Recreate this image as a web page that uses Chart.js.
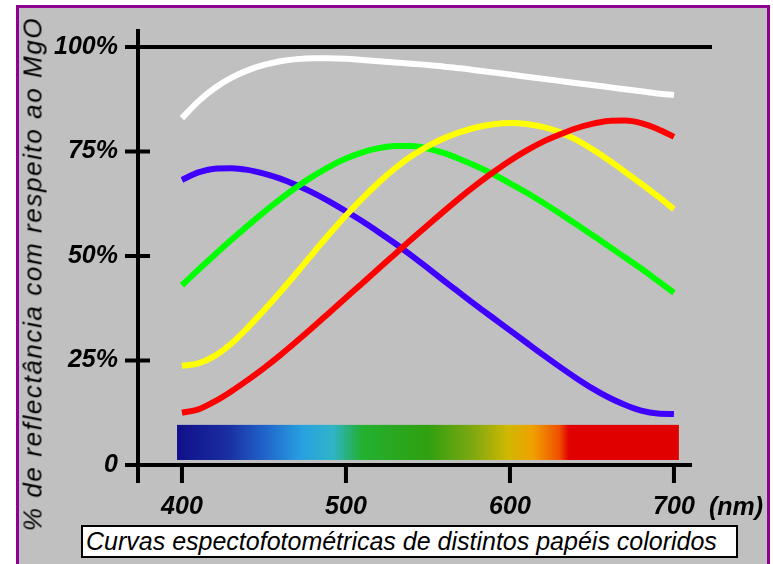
<!DOCTYPE html>
<html lang="pt">
  <head>
    <meta charset="UTF-8" />
    <meta name="viewport" content="width=device-width, initial-scale=1.0" />
    <script src="https://cdn.jsdelivr.net/npm/chart.js@4.4.0/dist/chart.umd.min.js"></script>
    <style>
      html, body { margin: 0; padding: 0; background: #ffffff; }
      body { width: 773px; height: 564px; position: relative; overflow: hidden; font-family: "Liberation Sans", Arial, sans-serif; }
      .frame { position: absolute; left: 16px; top: 5px; width: 748px; height: 600px; background: #c0c0c0; border: 3px solid #900090; }
      #spectra { position: absolute; left: 0; top: 0; }
      .ytitle { position: absolute; left: 33px; top: 274px; transform: translate(-50%, -50%) rotate(-90deg); white-space: nowrap; font-style: italic; font-size: 26px; letter-spacing: 1.6px; color: #000; }
      .unit { position: absolute; left: 709px; top: 492px; font-style: italic; font-weight: bold; font-size: 25px; color: #000; }
      .caption { position: absolute; left: 81px; top: 525px; width: 650px; height: 29px; background: #fff; border: 2px solid #000; font-style: italic; font-size: 25px; line-height: 29px; padding-left: 3px; color: #000; white-space: nowrap; }
    </style>
  </head>
  <body>
    <div class="frame"></div>
    <canvas id="spectra" width="773" height="564"></canvas>
    <div class="ytitle">% de reflectância com respeito ao MgO</div>
    <div class="unit">(nm)</div>
    <div class="caption">Curvas espectofotométricas de distintos papéis coloridos</div>

    <script>
      // wavelengths (nm) and % reflectance
      const wavelengths = [400, 410, 420, 430, 440, 450, 460, 470, 480, 490, 500, 510, 520, 530, 540, 550, 560, 570, 580, 590, 600, 610, 620, 630, 640, 650, 660, 670, 680, 690, 700];

      const white = [83, 87, 90.2, 92.6, 94.4, 95.7, 96.6, 97.1, 97.3, 97.3, 97.2, 96.9, 96.6, 96.3, 96, 95.7, 95.3, 94.9, 94.4, 93.9, 93.4, 92.9, 92.4, 91.9, 91.4, 90.9, 90.4, 89.9, 89.4, 88.9, 88.5];
      const blue = [68.2, 70, 70.9, 71, 70.6, 69.7, 68.5, 66.9, 65.1, 63, 60.7, 58.3, 55.7, 53, 50.1, 47.1, 44, 41, 38, 35.1, 32.2, 29.3, 26.4, 23.6, 20.9, 18.4, 16.2, 14.4, 13, 12.3, 12.2];
      const green = [43, 46.7, 50.3, 53.8, 57.2, 60.5, 63.6, 66.5, 69.1, 71.4, 73.3, 74.8, 75.8, 76.3, 76.3, 75.7, 74.6, 73.1, 71.4, 69.5, 67.4, 65.2, 62.8, 60.3, 57.7, 55.1, 52.4, 49.7, 47, 44.1, 41.2];
      const yellow = [23.7, 24.3, 26.1, 29, 32.8, 37, 41.4, 46, 50.7, 55.3, 59.7, 63.8, 67.6, 71, 73.9, 76.3, 78.2, 79.7, 80.8, 81.5, 81.8, 81.6, 80.9, 79.7, 77.9, 75.6, 73, 70.2, 67.3, 64.3, 61.2];
      const red = [12.5, 13.3, 15.2, 17.6, 20.3, 23.2, 26.3, 29.6, 33, 36.5, 40, 43.5, 47, 50.5, 54, 57.4, 60.8, 64.1, 67.2, 70.1, 72.8, 75.2, 77.3, 79, 80.5, 81.6, 82.3, 82.4, 81.8, 80.4, 78.5];

      const xTicks = [400, 500, 600, 700];
      const yTicks = [0, 25, 50, 75, 100];
      const yTickLabels = ["0", "25%", "50%", "75%", "100%"];

      // spectrum strip under the curves
      const stripFrom = 397, stripTo = 703, stripLow = 1.2, stripHigh = 9.6;
      const stripColors = [
        [397, "#10108a"], [428, "#1a2ea0"], [449, "#2060c8"], [473, "#28a0e0"],
        [492, "#30b4c8"], [510, "#22b030"], [550, "#30a010"], [578, "#80a810"],
        [599, "#d0b800"], [614, "#f0a000"], [630, "#f05000"], [636, "#e00000"], [703, "#e00000"],
      ];

      const tickFont = { family: "'Liberation Sans', Arial, sans-serif", size: 25, style: "italic", weight: "bold" };

      const toPoints = (vals) => vals.map((v, i) => ({ x: wavelengths[i], y: v }));

      const stripPlugin = {
        id: "strip",
        beforeDatasetsDraw(chart) {
          const { ctx, scales: { x, y } } = chart;
          const x0 = x.getPixelForValue(stripFrom), x1 = x.getPixelForValue(stripTo);
          const y0 = y.getPixelForValue(stripHigh), y1 = y.getPixelForValue(stripLow);
          const g = ctx.createLinearGradient(x0, 0, x1, 0);
          stripColors.forEach(([nm, c]) => g.addColorStop((nm - stripFrom) / (stripTo - stripFrom), c));
          ctx.save();
          ctx.fillStyle = g;
          ctx.fillRect(x0, y0, x1 - x0, y1 - y0);
          ctx.restore();
        },
      };

      const axesPlugin = {
        id: "axes",
        afterDraw(chart) {
          const { ctx, chartArea: a, scales: { x, y } } = chart;
          const x0 = a.left, y0 = y.getPixelForValue(0), top = y.getPixelForValue(100);
          ctx.save();
          ctx.strokeStyle = "#000";
          ctx.lineWidth = 4;
          ctx.lineCap = "butt";
          ctx.beginPath();
          // y axis
          ctx.moveTo(x0, top - 18); ctx.lineTo(x0, y0 + 18);
          // x axis
          ctx.moveTo(x0 - 13, y0); ctx.lineTo(x.getPixelForValue(711), y0);
          // 100% line
          ctx.moveTo(x0 - 13, top); ctx.lineTo(a.right, top);
          // y ticks
          [25, 50, 75].forEach((v) => {
            const p = y.getPixelForValue(v);
            ctx.moveTo(x0 - 13, p); ctx.lineTo(x0 + 12, p);
          });
          // x ticks
          xTicks.forEach((v) => {
            const p = x.getPixelForValue(v);
            ctx.moveTo(p, y0); ctx.lineTo(p, y0 + 18);
          });
          ctx.stroke();
          ctx.restore();
        },
      };

      const line = (vals, color) => ({
        data: toPoints(vals),
        borderColor: color,
        backgroundColor: color,
        borderWidth: 6,
        borderCapStyle: "butt",
        pointRadius: 0,
        cubicInterpolationMode: "monotone",
        fill: false,
      });

      new Chart(document.getElementById("spectra"), {
        type: "line",
        data: {
          datasets: [
            line(red, "#ff0000"),
            line(yellow, "#ffff00"),
            line(green, "#00ff00"),
            line(blue, "#4000ff"),
            line(white, "#ffffff"),
          ],
        },
        options: {
          responsive: false,
          animation: false,
          devicePixelRatio: 1,
          layout: { padding: { left: 0, right: 61, top: 47, bottom: 0 } },
          plugins: { legend: { display: false }, tooltip: { enabled: false } },
          scales: {
            x: {
              type: "linear",
              min: 373.2,
              max: 723.2,
              afterBuildTicks: (s) => { s.ticks = xTicks.map((v) => ({ value: v })); },
              afterFit: (s) => { s.height = 99; },
              grid: { display: false, drawTicks: false },
              border: { display: false },
              ticks: { padding: 27, color: "#000", font: tickFont, maxRotation: 0, autoSkip: false },
            },
            y: {
              min: 0,
              max: 100,
              afterBuildTicks: (s) => { s.ticks = yTicks.map((v) => ({ value: v })); },
              afterFit: (s) => { s.width = 138; },
              grid: { display: false, drawTicks: false },
              border: { display: false },
              ticks: { padding: 20, color: "#000", font: tickFont, callback: (v) => yTickLabels[yTicks.indexOf(v)] },
            },
          },
        },
        plugins: [stripPlugin, axesPlugin],
      });
    </script>
  </body>
</html>
